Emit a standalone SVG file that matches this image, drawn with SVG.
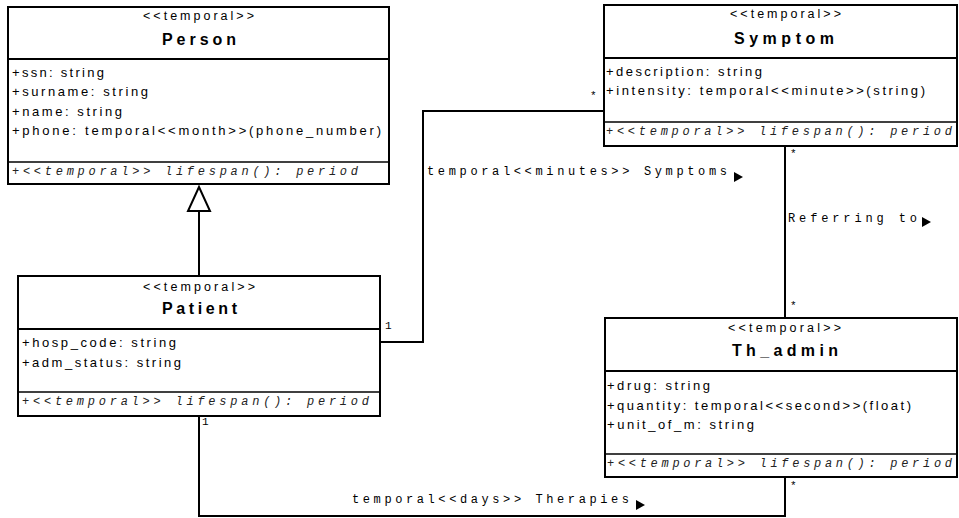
<svg xmlns="http://www.w3.org/2000/svg" width="959" height="518" viewBox="0 0 959 518">
  <style>
    .box { fill: #fff; stroke: #000; stroke-width: 2; }
    .sep { stroke: #000; stroke-width: 2; }
    .opsep { stroke: #000; stroke-width: 1.5; }
    .edge { fill: none; stroke: #000; stroke-width: 2; }
    .stereo { font-family: "Liberation Sans", Arial, sans-serif; font-size: 12.5px; fill: #000; }
    .name { font-family: "Liberation Sans", Arial, sans-serif; font-size: 16px; font-weight: bold; fill: #000; }
    .attr { font-family: "Liberation Sans", Arial, sans-serif; font-size: 13px; fill: #000; }
    .op { font-family: "Liberation Mono", "Courier New", monospace; font-size: 12px; font-style: italic; fill: #222; }
    .lbl { font-family: "Liberation Mono", "Courier New", monospace; font-size: 12px; fill: #000; }
    .mult { font-family: "Liberation Mono", "Courier New", monospace; font-size: 11px; fill: #000; }
    .dir { fill: #000; }
  </style>

  <!-- connectors -->
  <g id="connectors">
    <!-- generalization Patient -> Person -->
    <path class="edge" d="M199,276 V211"/>
    <path d="M199,187 L210,211 L188,211 Z" fill="#fff" stroke="#000" stroke-width="2"/>

    <!-- Patient - Symptom -->
    <path class="edge" d="M380,342 H423 V111 H604"/>
    <text class="mult" x="385" y="329">1</text>
    <text class="mult" x="590" y="99">*</text>
    <text class="lbl" x="427" y="175" textLength="300" lengthAdjust="spacing">temporal&lt;&lt;minutes&gt;&gt; Symptoms</text>
    <path class="dir" d="M734,172 L743,177 L734,182 Z"/>

    <!-- Symptom - Th_admin -->
    <path class="edge" d="M785,146 V318"/>
    <text class="mult" x="790" y="157">*</text>
    <text class="mult" x="790" y="309">*</text>
    <text class="lbl" x="788" y="222" textLength="129" lengthAdjust="spacing">Referring to</text>
    <path class="dir" d="M922,217 L931,222 L922,227 Z"/>

    <!-- Patient - Th_admin -->
    <path class="edge" d="M199,416 V516 H785 V477"/>
    <text class="mult" x="202" y="425">1</text>
    <text class="mult" x="790" y="489">*</text>
    <text class="lbl" x="352" y="503" textLength="277" lengthAdjust="spacing">temporal&lt;&lt;days&gt;&gt; Therapies</text>
    <path class="dir" d="M636,500 L645,505 L636,510 Z"/>
  </g>

  <!-- Person -->
  <g id="person">
    <rect class="box" x="8" y="7" width="381" height="177"/>
    <line class="sep" x1="8" y1="59" x2="389" y2="59"/>
    <line class="opsep" x1="8" y1="162" x2="389" y2="162"/>
    <text class="stereo" x="143" y="20" textLength="111" lengthAdjust="spacing">&lt;&lt;temporal&gt;&gt;</text>
    <text class="name" x="162" y="45" textLength="74" lengthAdjust="spacing">Person</text>
    <text class="attr" x="12" y="77" textLength="92" lengthAdjust="spacing">+ssn: string</text>
    <text class="attr" x="12" y="96" textLength="136" lengthAdjust="spacing">+surname: string</text>
    <text class="attr" x="12" y="116" textLength="110" lengthAdjust="spacing">+name: string</text>
    <text class="attr" x="12" y="135" textLength="369" lengthAdjust="spacing">+phone: temporal&lt;&lt;month&gt;&gt;(phone_number)</text>
    <text class="op" x="12" y="175" textLength="346" lengthAdjust="spacing">+&lt;&lt;temporal&gt;&gt; lifespan(): period</text>
  </g>

  <!-- Symptom -->
  <g id="symptom">
    <rect class="box" x="604" y="5" width="353" height="141"/>
    <line class="sep" x1="604" y1="58" x2="957" y2="58"/>
    <line class="opsep" x1="604" y1="122" x2="957" y2="122"/>
    <text class="stereo" x="730" y="18" textLength="111" lengthAdjust="spacing">&lt;&lt;temporal&gt;&gt;</text>
    <text class="name" x="734" y="44" textLength="100" lengthAdjust="spacing">Symptom</text>
    <text class="attr" x="606" y="76" textLength="156" lengthAdjust="spacing">+description: string</text>
    <text class="attr" x="606" y="95" textLength="319" lengthAdjust="spacing">+intensity: temporal&lt;&lt;minute&gt;&gt;(string)</text>
    <text class="op" x="606" y="135" textLength="346" lengthAdjust="spacing">+&lt;&lt;temporal&gt;&gt; lifespan(): period</text>
  </g>

  <!-- Patient -->
  <g id="patient">
    <rect class="box" x="18" y="276" width="362" height="140"/>
    <line class="sep" x1="18" y1="329" x2="380" y2="329"/>
    <line class="opsep" x1="18" y1="392" x2="380" y2="392"/>
    <text class="stereo" x="143" y="291" textLength="112" lengthAdjust="spacing">&lt;&lt;temporal&gt;&gt;</text>
    <text class="name" x="162" y="314" textLength="75" lengthAdjust="spacing">Patient</text>
    <text class="attr" x="22" y="347" textLength="154" lengthAdjust="spacing">+hosp_code: string</text>
    <text class="attr" x="22" y="367" textLength="159" lengthAdjust="spacing">+adm_status: string</text>
    <text class="op" x="22" y="405" textLength="347" lengthAdjust="spacing">+&lt;&lt;temporal&gt;&gt; lifespan(): period</text>
  </g>

  <!-- Th_admin -->
  <g id="th_admin">
    <rect class="box" x="605" y="318" width="352" height="159"/>
    <line class="sep" x1="605" y1="371" x2="957" y2="371"/>
    <line class="opsep" x1="605" y1="454" x2="957" y2="454"/>
    <text class="stereo" x="728" y="332" textLength="113" lengthAdjust="spacing">&lt;&lt;temporal&gt;&gt;</text>
    <text class="name" x="732" y="356" textLength="106" lengthAdjust="spacing">Th_admin</text>
    <text class="attr" x="607" y="390" textLength="103" lengthAdjust="spacing">+drug: string</text>
    <text class="attr" x="607" y="410" textLength="304" lengthAdjust="spacing">+quantity: temporal&lt;&lt;second&gt;&gt;(float)</text>
    <text class="attr" x="607" y="429" textLength="147" lengthAdjust="spacing">+unit_of_m: string</text>
    <text class="op" x="607" y="467" textLength="345" lengthAdjust="spacing">+&lt;&lt;temporal&gt;&gt; lifespan(): period</text>
  </g>
</svg>
